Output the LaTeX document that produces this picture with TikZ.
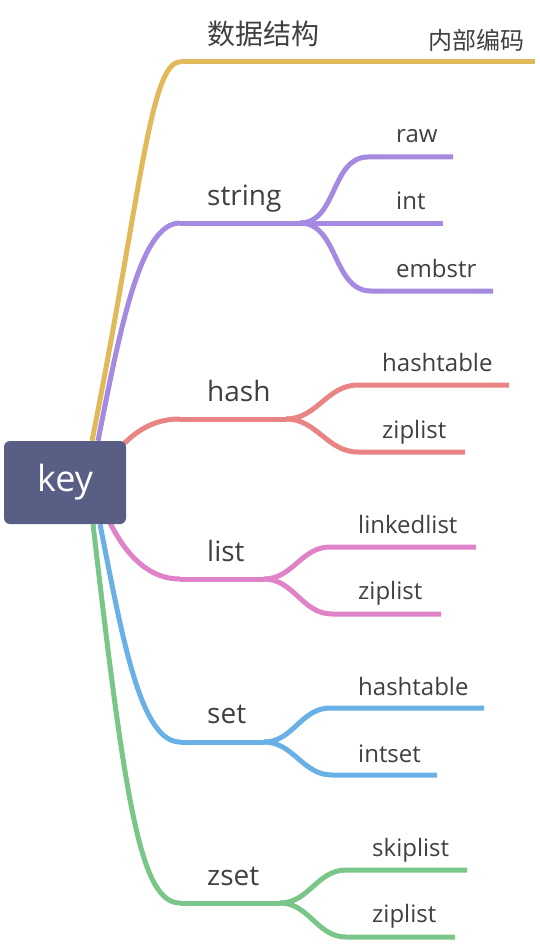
\documentclass[tikz,border=0pt]{standalone}
\usepackage{fontspec}
\setmainfont{Open Sans}
\newfontfamily\cjk{Noto Sans CJK SC}
\usetikzlibrary{backgrounds}
\definecolor{keyblue}{RGB}{88,94,132}
\definecolor{txtgray}{RGB}{64,64,64}
\definecolor{cgold}{RGB}{225,185,90}
\definecolor{cpurple}{RGB}{165,138,225}
\definecolor{cred}{RGB}{232,133,130}
\definecolor{cpink}{RGB}{224,130,200}
\definecolor{cblue}{RGB}{104,176,230}
\definecolor{cgreen}{RGB}{122,198,136}
\tikzset{
  topic/.style={anchor=base west, inner sep=0pt, text=txtgray, font=\fontsize{28}{30}\selectfont},
  enc/.style={anchor=base west, inner sep=0pt, text=txtgray, font=\fontsize{24}{26}\selectfont},
  branch/.style={line width=5pt},
}
\begin{document}
\begin{tikzpicture}[x=1pt, y=-1pt]
\useasboundingbox (0,0) rectangle (540,944);
% Root
\node[fill=keyblue, rounded corners=6pt, minimum width=122pt, minimum height=83pt, text=white, font=\fontsize{36}{40}\selectfont] (key) at (65,482.5) {key};
% Ends of the underlines
\coordinate (ds-s) at (180,62);
\coordinate (ds-f) at (333,62);
\coordinate (nb-e) at (535,62);
\coordinate (string-s) at (180,223);
\coordinate (string-f) at (300,223);
\coordinate (raw-s) at (368,157);
\coordinate (raw-e) at (453,157);
\coordinate (int-e) at (443,223);
\coordinate (embstr-s) at (371,291);
\coordinate (embstr-e) at (493,291);
\coordinate (hash-s) at (180,419);
\coordinate (hash-f) at (286,419);
\coordinate (hhash-s) at (358,385);
\coordinate (hhash-e) at (509,385);
\coordinate (hzip-s) at (358,452);
\coordinate (hzip-e) at (465,452);
\coordinate (list-s) at (180,579);
\coordinate (list-f) at (264,579);
\coordinate (linked-s) at (330,547);
\coordinate (linked-e) at (476,547);
\coordinate (lzip-s) at (332,614);
\coordinate (lzip-e) at (441,614);
\coordinate (set-s) at (180,742);
\coordinate (set-f) at (264,742);
\coordinate (shash-s) at (330,708);
\coordinate (shash-e) at (484,708);
\coordinate (intset-s) at (332,775);
\coordinate (intset-e) at (437,775);
\coordinate (zset-s) at (180,903);
\coordinate (zset-f) at (280,903);
\coordinate (skip-s) at (346,870);
\coordinate (skip-e) at (467,870);
\coordinate (zzip-s) at (346,937);
\coordinate (zzip-e) at (455,937);
% Branches from the root
\begin{scope}[on background layer]
\draw[branch, cgold] ([xshift=27pt]key.north) .. controls +(48,-241) and +(-30,0) .. (ds-s);
\draw[branch, cpurple] ([xshift=33pt]key.north) .. controls +(22,-111) and +(-40,0) .. (string-s);
\draw[branch, cred] ([xshift=-21pt, yshift=17.5pt]key.east) .. controls +(20,-25) and +(-35,0) .. (hash-s);
\draw[branch, cpink] ([xshift=-26pt, yshift=-17.5pt]key.east) .. controls +(15,40) and +(-40,0) .. (list-s);
\draw[branch, cblue] ([xshift=35pt]key.south) .. controls +(22,111) and +(-40,0) .. (set-s);
\draw[branch, cgreen] ([xshift=28pt]key.south) .. controls +(32,276) and +(-40,0) .. (zset-s);
\end{scope}
% 数据结构
\draw[branch, cgold] (ds-s) -- (ds-f);
\draw[branch, cgold] (ds-f) -- (nb-e);
\node[topic] (ds) at (207,45) {\cjk 数据结构};
\node[enc] (nb) at (428,50) {\cjk 内部编码};
% string
\draw[branch, cpurple] (string-s) -- (string-f);
\draw[branch, cpurple] (string-f) to[out=0, in=180] (raw-s) -- (raw-e);
\draw[branch, cpurple] (string-f) -- (int-e);
\draw[branch, cpurple] (string-f) to[out=0, in=180] (embstr-s) -- (embstr-e);
\node[topic] (string) at (207,205) {string};
\node[enc] (raw) at (396,143) {raw};
\node[enc] (int) at (396,209) {int};
\node[enc] (embstr) at (396,277) {embstr};
% hash
\draw[branch, cred] (hash-s) -- (hash-f);
\draw[branch, cred] (hash-f) to[out=0, in=180] (hhash-s) -- (hhash-e);
\draw[branch, cred] (hash-f) to[out=0, in=180] (hzip-s) -- (hzip-e);
\node[topic] (hash) at (207,401) {hash};
\node[enc] (hhash) at (382,371) {hashtable};
\node[enc] (hzip) at (382,438) {ziplist};
% list
\draw[branch, cpink] (list-s) -- (list-f);
\draw[branch, cpink] (list-f) to[out=0, in=180] (linked-s) -- (linked-e);
\draw[branch, cpink] (list-f) to[out=0, in=180] (lzip-s) -- (lzip-e);
\node[topic] (list) at (207,561) {list};
\node[enc] (linked) at (358,533) {linkedlist};
\node[enc] (lzip) at (358,599) {ziplist};
% set
\draw[branch, cblue] (set-s) -- (set-f);
\draw[branch, cblue] (set-f) to[out=0, in=180] (shash-s) -- (shash-e);
\draw[branch, cblue] (set-f) to[out=0, in=180] (intset-s) -- (intset-e);
\node[topic] (set) at (207,723) {set};
\node[enc] (shash) at (358,695) {hashtable};
\node[enc] (intset) at (358,762) {intset};
% zset
\draw[branch, cgreen] (zset-s) -- (zset-f);
\draw[branch, cgreen] (zset-f) to[out=0, in=180] (skip-s) -- (skip-e);
\draw[branch, cgreen] (zset-f) to[out=0, in=180] (zzip-s) -- (zzip-e);
\node[topic] (zset) at (207,885) {zset};
\node[enc] (skip) at (372,856) {skiplist};
\node[enc] (zzip) at (372,922) {ziplist};
\end{tikzpicture}
\end{document}
